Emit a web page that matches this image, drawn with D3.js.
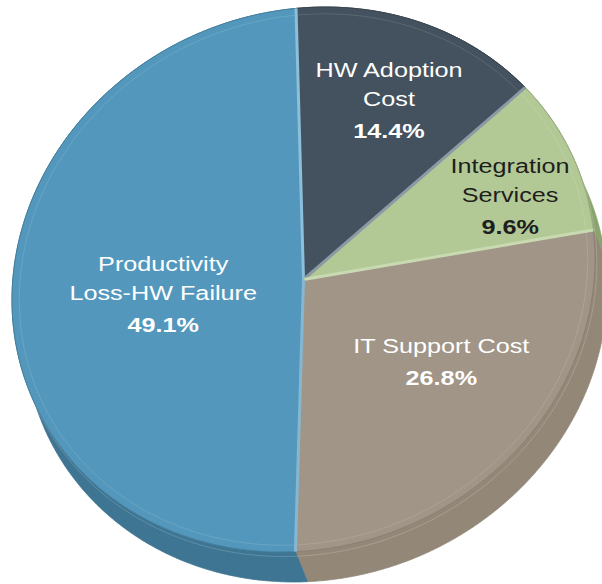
<!DOCTYPE html>
<html>
<head>
<meta charset="utf-8">
<script src="https://cdn.jsdelivr.net/npm/d3@7"></script>
<style>
  html, body { margin: 0; padding: 0; background: #ffffff; }
  svg { display: block; }
</style>
</head>
<body>
<div id="chart"></div>
<script>
// ---- data ----
const categories = ["HW Adoption Cost", "Integration Services", "IT Support Cost", "Productivity Loss-HW Failure"];
const values = [14.4, 9.6, 26.8, 49.1];
const labelLines = [["HW Adoption", "Cost"], ["Integration", "Services"], ["IT Support Cost"], ["Productivity", "Loss-HW Failure"]];
const pctLabels = ["14.4%", "9.6%", "26.8%", "49.1%"];

// ---- styles ----
const topColors  = ["#43525e", "#b2c995", "#a19587", "#5398bc"];
const sideColors = ["#2f3b44", "#8aa46f", "#938878", "#3d7592"];
const edgeColors = ["#8cc0da", "#8c9aa6", "#c9dab2", "#86b7d1"]; // bevel at start edge of each slice
const textColors = ["#ffffff", "#1e1e1e", "#ffffff", "#ffffff"];
const labelR  = [0.779, 0.785, 0.564, 0.486];
const labelDT = [-1.85, -2.1, -9.4, 6.8]; // degrees

const W = 602, H = 584;
const cx = 303.5, cy = 279.5, rx = 291.5, ry = 271.7, shear = 20.5;
const depth = [12, 30];
const k = 0.02;          // perspective warp
const start = -1.5 * Math.PI / 180;

const svg = d3.select("#chart").append("svg").attr("width", W).attr("height", H);

const pie = d3.pie().sort(null).startAngle(start).endAngle(start + 2 * Math.PI);
const arcs = pie(values);

const warp = a => a - k * Math.sin(a);
const pt = (a, r = 1, off = [0, 0], raw = false) => {
  const t = raw ? a : warp(a);
  return [cx + off[0] + rx * r * Math.sin(t),
          cy + off[1] - r * (ry * Math.cos(t) + shear * Math.sin(t))];
};
const samples = (a0, a1) => {
  const n = Math.max(2, Math.ceil(Math.abs(a1 - a0) / (0.4 * Math.PI / 180)));
  return d3.range(n + 1).map(i => a0 + (a1 - a0) * i / n);
};
const line = d3.line();

// ---- side walls ----
svg.append("g").selectAll("path").data(arcs).join("path")
  .attr("d", d => {
    const s = samples(d.startAngle, d.endAngle);
    const top = s.map(a => pt(a));
    const bot = s.slice().reverse().map(a => pt(a, 1, depth));
    return line(top.concat(bot)) + "Z";
  })
  .attr("fill", (d, i) => sideColors[i])
  .attr("stroke", (d, i) => sideColors[i])
  .attr("stroke-width", 0.8);

// rim highlight on wall
svg.append("g").selectAll("path").data(arcs).join("path")
  .attr("d", d => line(samples(d.startAngle, d.endAngle).map(a => pt(a, 1, [depth[0] * 0.15, depth[1] * 0.15]))))
  .attr("fill", "none")
  .attr("stroke", "#ffffff")
  .attr("stroke-opacity", 0.18)
  .attr("stroke-width", 1);

// ---- top faces ----
svg.append("g").selectAll("path").data(arcs).join("path")
  .attr("d", d => line([[cx, cy]].concat(samples(d.startAngle, d.endAngle).map(a => pt(a)))) + "Z")
  .attr("fill", (d, i) => topColors[i])
  .attr("stroke", (d, i) => d3.color(topColors[i]).darker(0.5))
  .attr("stroke-width", 1)
  .attr("stroke-linejoin", "round");

// inner bevel line
svg.append("g").selectAll("path").data(arcs).join("path")
  .attr("d", d => line(samples(d.startAngle, d.endAngle).map(a => pt(a, 0.975))))
  .attr("fill", "none")
  .attr("stroke", "#ffffff")
  .attr("stroke-opacity", 0.12)
  .attr("stroke-width", 1);

// radial bevel edges
svg.append("g").selectAll("line").data(arcs).join("line")
  .attr("x1", cx).attr("y1", cy)
  .attr("x2", d => pt(d.startAngle)[0])
  .attr("y2", d => pt(d.startAngle)[1])
  .attr("stroke", (d, i) => edgeColors[i])
  .attr("stroke-width", 3);

// ---- labels ----
const fontFamily = "'Liberation Sans', Arial, Helvetica, sans-serif";
const lab = svg.append("g").selectAll("g").data(arcs).join("g")
  .attr("transform", (d, i) => {
    const mid = (d.startAngle + d.endAngle) / 2;
    const t = warp(mid) + labelDT[i] * Math.PI / 180;
    const p = pt(t, labelR[i], [0, 0], true);
    return `translate(${p[0]},${p[1]}) scale(1.2,1)`;
  });

lab.each(function(d, i) {
  const g = d3.select(this);
  labelLines[i].forEach((s, j) => {
    g.append("text")
      .attr("x", 0).attr("y", j * 29)
      .attr("text-anchor", "middle")
      .attr("font-family", fontFamily)
      .attr("font-size", 21)
      .attr("fill", textColors[i])
      .text(s);
  });
  g.append("text")
    .attr("x", 0).attr("y", (labelLines[i].length - 1) * 29 + 31.5)
    .attr("text-anchor", "middle")
    .attr("font-family", fontFamily)
    .attr("font-size", 21)
    .attr("font-weight", "bold")
    .attr("fill", textColors[i])
    .text(pctLabels[i]);
});
</script>
</body>
</html>
